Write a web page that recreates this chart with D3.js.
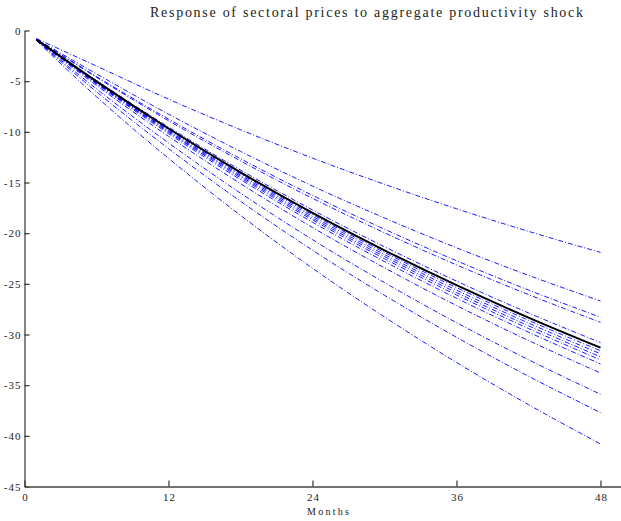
<!DOCTYPE html>
<html><head><meta charset="utf-8">
<script src="https://cdn.jsdelivr.net/npm/d3@7"></script>
<style>
html,body{margin:0;padding:0;background:#fff;}
svg{display:block;}
text{font-family:"Liberation Serif","Times New Roman",serif;fill:#222;}
</style></head>
<body><svg id="c" width="621" height="521"></svg>
<script>
const months = [1, 6, 12, 18, 24, 30, 36, 42, 48];
const xTicks = [0, 12, 24, 36, 48];
const yTicks = [0, -5, -10, -15, -20, -25, -30, -35, -40, -45];
const sectorSeries = [
  [-0.80, -3.51, -6.77, -9.79, -12.59, -15.18, -17.59, -19.82, -21.9],
  [-0.85, -4.28, -8.25, -11.93, -15.35, -18.50, -21.44, -24.16, -26.7],
  [-0.85, -4.54, -8.74, -12.65, -16.27, -19.61, -22.72, -25.61, -28.3],
  [-0.88, -4.62, -8.90, -12.87, -16.56, -19.96, -23.13, -26.06, -28.8],
  [-0.90, -4.94, -9.52, -13.77, -17.71, -21.34, -24.73, -27.87, -30.8],
  [-0.90, -5.07, -9.76, -14.13, -18.17, -21.90, -25.37, -28.60, -31.6],
  [-0.90, -5.12, -9.86, -14.26, -18.34, -22.11, -25.62, -28.87, -31.9],
  [-0.92, -5.16, -9.95, -14.39, -18.52, -22.31, -25.86, -29.14, -32.2],
  [-0.92, -5.21, -10.04, -14.53, -18.69, -22.52, -26.10, -29.41, -32.5],
  [-0.93, -5.28, -10.17, -14.71, -18.92, -22.80, -26.42, -29.77, -32.9],
  [-0.94, -5.42, -10.44, -15.11, -19.44, -23.42, -27.14, -30.59, -33.8],
  [-0.96, -5.76, -11.09, -16.05, -20.64, -24.88, -28.83, -32.49, -35.9],
  [-0.98, -6.05, -11.65, -16.85, -21.68, -26.13, -30.27, -34.12, -37.7],
  [-1.00, -6.54, -12.61, -18.24, -23.46, -28.27, -32.76, -36.92, -40.8]
];
const aggregateSeries = [-0.90, -5.02, -9.67, -13.99, -18.00, -21.69, -25.13, -28.33, -31.3];
const titleText = "Response of sectoral prices to aggregate productivity shock";
const xLabelText = "Months";

const svg = d3.select("#c");
const x = d3.scaleLinear().domain([0, 50]).range([24.5, 624.5]);
const y = d3.scaleLinear().domain([-45, 0]).range([486.5, 30.5]);

const line = d3.line().x((d,i)=>x(months[i])).y(d=>y(d)).curve(d3.curveMonotoneX);

svg.append("g").selectAll("path").data(sectorSeries).join("path")
  .attr("d", line).attr("fill","none").attr("stroke","#0000ff")
  .attr("stroke-width",0.9).attr("stroke-dasharray","5,2,1,2");

svg.append("path").datum(aggregateSeries).attr("d", line)
  .attr("fill","none").attr("stroke","#000").attr("stroke-width",2);

const yAxis = svg.append("g").attr("transform","translate(24.5,0)")
  .call(d3.axisLeft(y).tickValues(yTicks).tickSizeInner(-5).tickSizeOuter(0).tickPadding(3).tickFormat(d => String(d)));
const xAxis = svg.append("g").attr("transform","translate(0,486.5)")
  .call(d3.axisBottom(x).tickValues(xTicks).tickSizeInner(-6).tickSizeOuter(0).tickPadding(7).tickFormat(d => String(d)));
[yAxis, xAxis].forEach(g=>{
  g.select(".domain").attr("stroke","#444").attr("stroke-width",1.3);
  g.selectAll(".tick line").attr("stroke","#333").attr("stroke-width",1.2);
  g.selectAll(".tick text").attr("fill","#222").style("font-family",'"Liberation Serif",serif')
    .style("font-size","11px").style("letter-spacing","1px");
});
xAxis.selectAll(".tick text").attr("dx","0.5");

svg.append("text").attr("x",150).attr("y",17).attr("textLength",433)
  .attr("lengthAdjust","spacing").style("font-size","14px").text(titleText);
svg.append("text").attr("x",307).attr("y",515).attr("textLength",42)
  .attr("lengthAdjust","spacing").style("font-size","10px").text(xLabelText);
</script></body></html>
